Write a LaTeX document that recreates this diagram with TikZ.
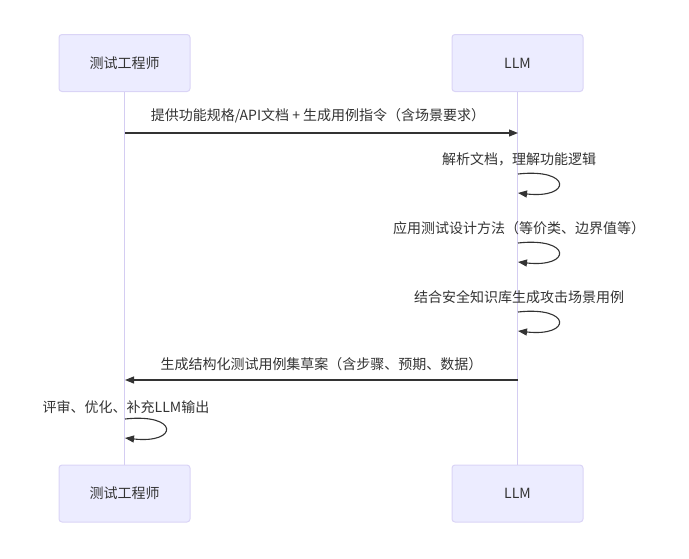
\documentclass[tikz,border=0pt]{standalone}
\usepackage{fontspec}
\setmainfont{Noto Sans CJK SC}
\usepackage{xcolor}
\usetikzlibrary{arrows.meta}

\definecolor{actorfill}{HTML}{ECECFF}
\definecolor{actorline}{HTML}{DAD4F6}
\definecolor{lifecol}{HTML}{D4CDF2}
\definecolor{msgcol}{HTML}{333333}

\tikzset{
    actor/.style={draw=actorline, fill=actorfill, rounded corners=3pt, line width=1pt,
        minimum width=131pt, minimum height=57pt, text=msgcol},
    lifeline/.style={draw=lifecol, line width=1.5pt},
    msg/.style={draw=msgcol, line width=1.1pt, -{Triangle[length=9pt, width=7pt]}},
    msgtext/.style={text=msgcol}
}

\begin{document}
\begin{tikzpicture}[x=1pt, y=-1pt, font=\fontsize{14}{16}\selectfont]
        \useasboundingbox (0,0) rectangle (689,558);

        \node[actor] (EngTop) at (124.5, 63) {测试工程师};
        \node[actor] (LLMTop) at (517.5, 63) {LLM};
        \node[actor] (EngBot) at (124.5, 493.5) {测试工程师};
        \node[actor] (LLMBot) at (517.5, 493.5) {LLM};

        \draw[lifeline] (EngTop) -- (EngBot);
        \draw[lifeline] (LLMTop) -- (LLMBot);

        \coordinate (Req1) at (125, 133);
        \coordinate (Req2) at (518, 133);
        \coordinate (Loop1a) at (518, 174);
        \coordinate (Loop1b) at (518, 193);
        \coordinate (Loop2a) at (518, 243);
        \coordinate (Loop2b) at (518, 262);
        \coordinate (Loop3a) at (518, 312);
        \coordinate (Loop3b) at (518, 331);
        \coordinate (Ret1) at (518, 380);
        \coordinate (Ret2) at (125, 380);
        \coordinate (Loop4a) at (125, 419);
        \coordinate (Loop4b) at (125, 438);

        % messages
        \draw[msg] (Req1) -- (Req2);
        \node[msgtext] (ReqText) at (318, 116) {提供功能规格/API文档 + 生成用例指令（含场景要求）};

        \draw[msg] (Loop1a) .. controls (572, 168) and (572, 199) .. (Loop1b);
        \node[msgtext] (Loop1Text) at (519, 159) {解析文档，理解功能逻辑};

        \draw[msg] (Loop2a) .. controls (572, 237) and (572, 268) .. (Loop2b);
        \node[msgtext] (Loop2Text) at (519, 228) {应用测试设计方法（等价类、边界值等）};

        \draw[msg] (Loop3a) .. controls (572, 306) and (572, 337) .. (Loop3b);
        \node[msgtext] (Loop3Text) at (519, 297) {结合安全知识库生成攻击场景用例};

        \draw[msg] (Ret1) -- (Ret2);
        \node[msgtext] (RetText) at (321.5, 364) {生成结构化测试用例集草案（含步骤、预期、数据）};

        \draw[msg] (Loop4a) .. controls (179, 413) and (179, 444) .. (Loop4b);
        \node[msgtext] (Loop4Text) at (126, 407) {评审、优化、补充LLM输出};

\end{tikzpicture}
\end{document}
